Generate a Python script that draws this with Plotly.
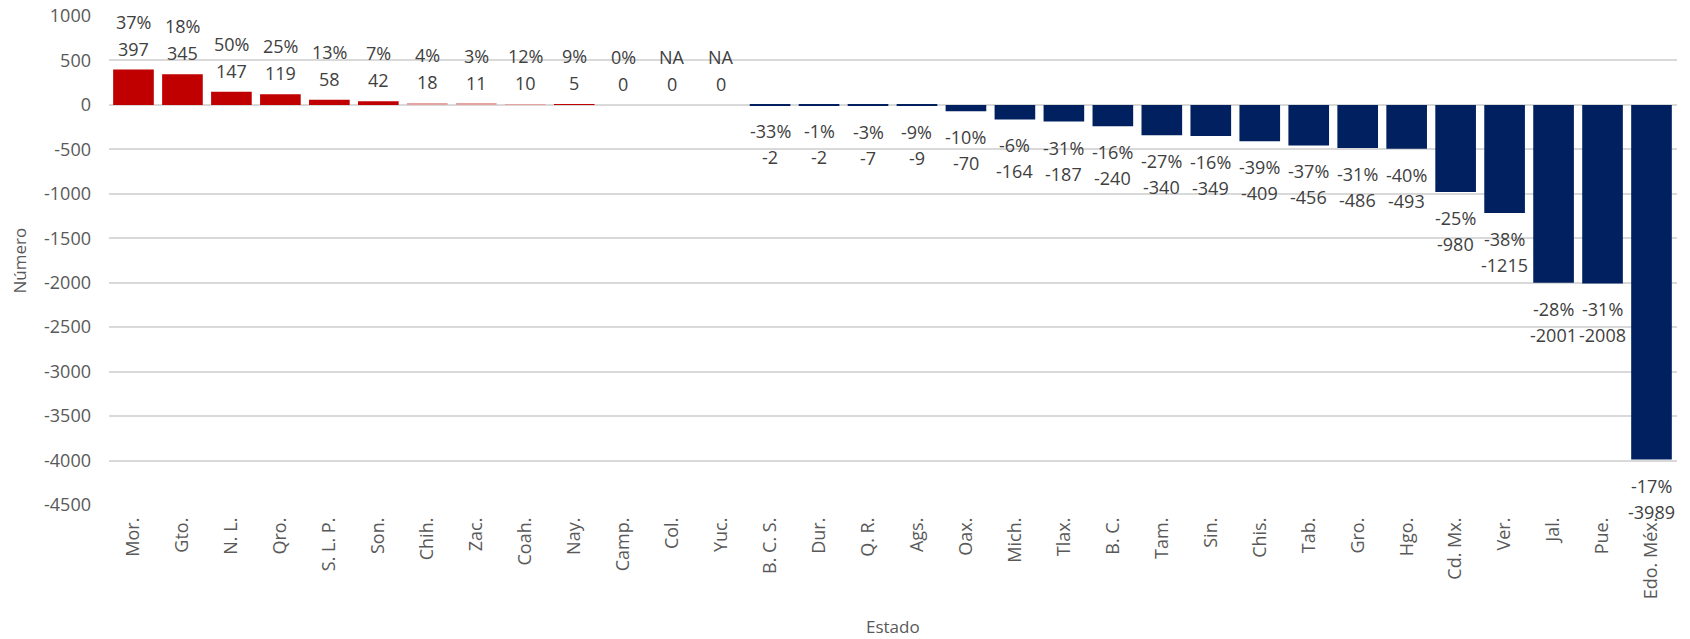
import plotly.graph_objects as go

# Change per state: absolute number and percentage
estados = ["Mor.", "Gto.", "N. L.", "Qro.", "S. L. P.", "Son.", "Chih.", "Zac.", "Coah.",
           "Nay.", "Camp.", "Col.", "Yuc.", "B. C. S.", "Dur.", "Q. R.", "Ags.", "Oax.",
           "Mich.", "Tlax.", "B. C.", "Tam.", "Sin.", "Chis.", "Tab.", "Gro.", "Hgo.",
           "Cd. Mx.", "Ver.", "Jal.", "Pue.", "Edo. Méx."]
numero = [397, 345, 147, 119, 58, 42, 18, 11, 10,
          5, 0, 0, 0, -2, -2, -7, -9, -70,
          -164, -187, -240, -340, -349, -409, -456, -486, -493,
          -980, -1215, -2001, -2008, -3989]
porcentaje = ["37%", "18%", "50%", "25%", "13%", "7%", "4%", "3%", "12%",
              "9%", "0%", "NA", "NA", "-33%", "-1%", "-3%", "-9%", "-10%",
              "-6%", "-31%", "-16%", "-27%", "-16%", "-39%", "-37%", "-31%", "-40%",
              "-25%", "-38%", "-28%", "-31%", "-17%"]
y_ticks = [1000, 500, 0, -500, -1000, -1500, -2000, -2500, -3000, -3500, -4000, -4500]

ROJO = "#C00000"
ROJO_CLARO = "#E6A3A3"
AZUL = "#002060"
claros = {"Chih.", "Zac.", "Coah."}

FONT = "Open Sans"
LABEL_COLOR = "#404040"
AXIS_COLOR = "#595959"


def color_de(estado, valor):
    if valor < 0:
        return AZUL
    return ROJO_CLARO if estado in claros else ROJO


colores = [color_de(e, v) for e, v in zip(estados, numero)]

fig = go.Figure(
    go.Bar(
        x=estados,
        y=numero,
        marker=dict(color=colores, line=dict(width=0)),
        hoverinfo="x+y",
    )
)

# Two-line labels at the end of each bar: percentage and number
annotations = []
for est, val, pct in zip(estados, numero, porcentaje):
    if val >= 0:
        lines = [(pct, 48), (str(val), 21)]
    else:
        lines = [(pct, -26), (str(val), -52)]
    for txt, shift in lines:
        annotations.append(dict(
            x=est, y=val, xref="x", yref="y", yshift=shift,
            text=txt, showarrow=False, xanchor="center", yanchor="middle",
            font=dict(family=FONT, size=18, color=LABEL_COLOR),
        ))

annotations += [
    dict(text="Número", xref="paper", yref="paper", x=(19 - 109) / 1568, y=0.5,
         xanchor="center", yanchor="middle", textangle=-90, showarrow=False,
         font=dict(family=FONT, size=17, color=AXIS_COLOR)),
    dict(text="Estado", xref="paper", yref="paper", x=0.5, y=-(626 - 505) / 489,
         xanchor="center", yanchor="middle", showarrow=False,
         font=dict(family=FONT, size=17, color=AXIS_COLOR)),
]

fig.update_layout(
    width=1690,
    height=639,
    margin=dict(l=109, r=13, t=16, b=134, autoexpand=False),
    paper_bgcolor="white",
    plot_bgcolor="white",
    bargap=0.17,
    showlegend=False,
    font=dict(family=FONT, color=AXIS_COLOR, size=17),
    annotations=annotations,
)

fig.update_xaxes(
    automargin=False,
    tickangle=-90,
    showgrid=False,
    showline=False,
    ticks="",
    tickfont=dict(family=FONT, size=18, color=AXIS_COLOR),
    ticklabelstandoff=8,
)
fig.update_yaxes(
    automargin=False,
    range=[-4500, 1000],
    tickvals=y_ticks,
    ticktext=[str(t) for t in y_ticks],
    showgrid=True,
    gridcolor="#D9D9D9",
    gridwidth=1.5,
    zeroline=True,
    zerolinecolor="#D9D9D9",
    zerolinewidth=1.5,
    showline=False,
    ticks="",
    tickfont=dict(family=FONT, size=18, color=AXIS_COLOR),
    ticklabelstandoff=17,
)

fig.write_html("out.html")
